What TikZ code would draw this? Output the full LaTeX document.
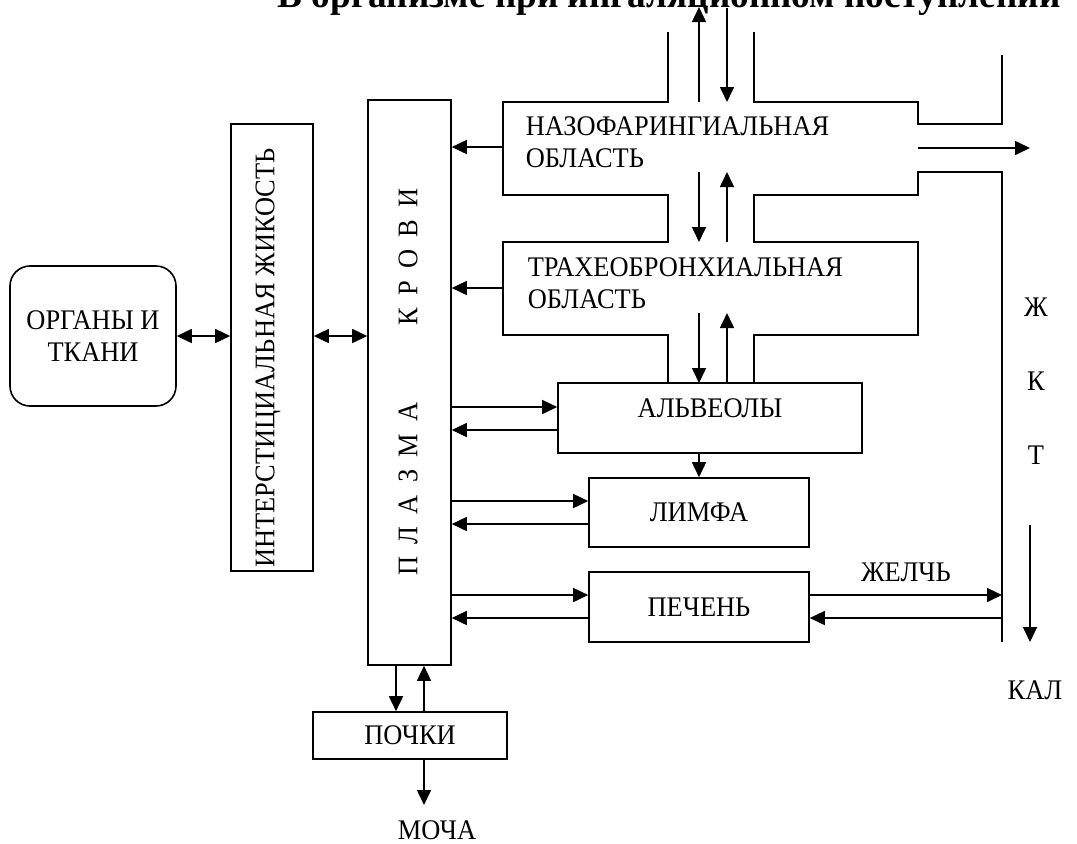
\documentclass[tikz,border=0pt]{standalone}
\usepackage{fontspec}
\setmainfont{Liberation Serif}
\newfontfamily\diagfont{Liberation Serif}[FakeStretch=0.93]
\usetikzlibrary{arrows.meta,positioning}
\tikzset{
  arr/.style={-{Triangle[length=7.5pt,width=7pt]}},
  darr/.style={{Triangle[length=7.5pt,width=7pt]}-{Triangle[length=7.5pt,width=7pt]}},
  box/.style={draw, rectangle, inner sep=0pt},
  txt/.style={font=\diagfont\fontsize{14.2pt}{16pt}\selectfont, inner sep=0pt},
}
\begin{document}
\begin{tikzpicture}[x=0.5pt,y=-0.5pt,line width=0.8pt]
\useasboundingbox (0,0) rectangle (1077,843);
\clip (0,0) rectangle (1077,843);

% title, cut at the top edge
\node[font=\bfseries\fontsize{18.6pt}{22pt}\selectfont, anchor=base west, inner sep=0pt] (title) at (277,7) {В организме при ингаляционном поступлении};

% left column
\node[box, rounded corners=10pt, minimum width=83pt, minimum height=70pt, txt, align=center] (organs) at (93,336) {ОРГАНЫ И\\ТКАНИ};
\node[box, minimum width=41pt, minimum height=223.5pt] (fluid) at (272,347.5) {};
\node[txt, rotate=90] at (268,358) {ИНТЕРСТИЦИАЛЬНАЯ ЖИКОСТЬ};
\node[box, minimum width=41.5pt, minimum height=282.5pt] (plasma) at (409.5,382.5) {};
\node[txt, rotate=90] at (408,257) {\spaceskip=6.2pt\relax К Р О В И};
\node[txt, rotate=90] at (408,489) {\spaceskip=6.2pt\relax П Л А З М А};

\draw[darr] (organs.east) -- (organs.east -| fluid.west);
\draw[darr] (fluid.east |- organs.east) -- (organs.east -| plasma.west);

% respiratory tract outline
\draw (668,32) -- (668,102) -- (503,102) -- (503,195) -- (668,195) -- (668,242)
  -- (503,242) -- (503,335) -- (668,335) -- (668,383);
\draw (754,32) -- (754,102) -- (918,102) -- (918,124) -- (1002,124) -- (1002,55);
\draw (1002,642) -- (1002,172) -- (918,172) -- (918,195) -- (754,195) -- (754,242)
  -- (918,242) -- (918,335) -- (754,335) -- (754,383);
\node[txt, align=left, anchor=west] (nasal) at (525,142) {НАЗОФАРИНГИАЛЬНАЯ\\ОБЛАСТЬ};
\node[txt, align=left, anchor=west] (trachea) at (527,283) {ТРАХЕОБРОНХИАЛЬНАЯ\\ОБЛАСТЬ};
\coordinate (nasL) at (503,147);
\coordinate (traL) at (503,288);
\coordinate (out) at (918,148);

\node[box, minimum width=152pt, minimum height=35pt,
  label={[txt, yshift=5pt]center:АЛЬВЕОЛЫ}] (alveoli) at (710,418) {};
\node[box, txt, minimum width=110pt, minimum height=34.5pt] (lymph) at (699,512.5) {ЛИМФА};
\node[box, txt, minimum width=110pt, minimum height=35pt] (liver) at (699,607) {ПЕЧЕНЬ};
\node[box, txt, minimum width=97pt, minimum height=23.5pt] (kidney) at (410,735.5) {ПОЧКИ};

% channels
\draw[arr] (699,102) -- (699,7);
\draw[arr] (727,8) -- (727,102);
\draw[arr] (699,172) -- (699,242);
\draw[arr] (727,242) -- (727,172);
\draw[arr] (699,313) -- (699,383);
\draw[arr] (727,383) -- (727,313);
\draw[arr] (out) -- (1030,148);

% to and from plasma
\draw[arr] (nasL) -- (nasL -| plasma.east);
\draw[arr] (traL) -- (traL -| plasma.east);
\draw[arr] (plasma.east |- 0,407) -- (alveoli.west |- 0,407);
\draw[arr] (alveoli.west |- 0,430) -- (plasma.east |- 0,430);
\draw[arr] (alveoli.south -| 699,0) -- (lymph.north -| 699,0);
\draw[arr] (plasma.east |- 0,501) -- (lymph.west |- 0,501);
\draw[arr] (lymph.west |- 0,524) -- (plasma.east |- 0,524);
\draw[arr] (plasma.east |- 0,595) -- (liver.west |- 0,595);
\draw[arr] (liver.west |- 0,618) -- (plasma.east |- 0,618);
\draw[arr] (liver.east |- 0,595) -- (1002,595) node[txt, midway, above=6pt] {ЖЕЛЧЬ};
\draw[arr] (1002,618) -- (liver.east |- 0,618);
\draw[arr] (plasma.south -| 396,0) -- (kidney.north -| 396,0);
\draw[arr] (kidney.north -| 424,0) -- (plasma.south -| 424,0);

% outputs
\node[txt] (urine) at (437,830) {МОЧА};
\draw[arr] (kidney.south -| 424,0) -- (424,805);
\node[txt] at (1036,307) {Ж};
\node[txt] at (1036,381) {К};
\node[txt] at (1036,455) {Т};
\draw[arr] (1030,525) -- (1030,642);
\node[txt] (feces) at (1035,690) {КАЛ};
\end{tikzpicture}
\end{document}
